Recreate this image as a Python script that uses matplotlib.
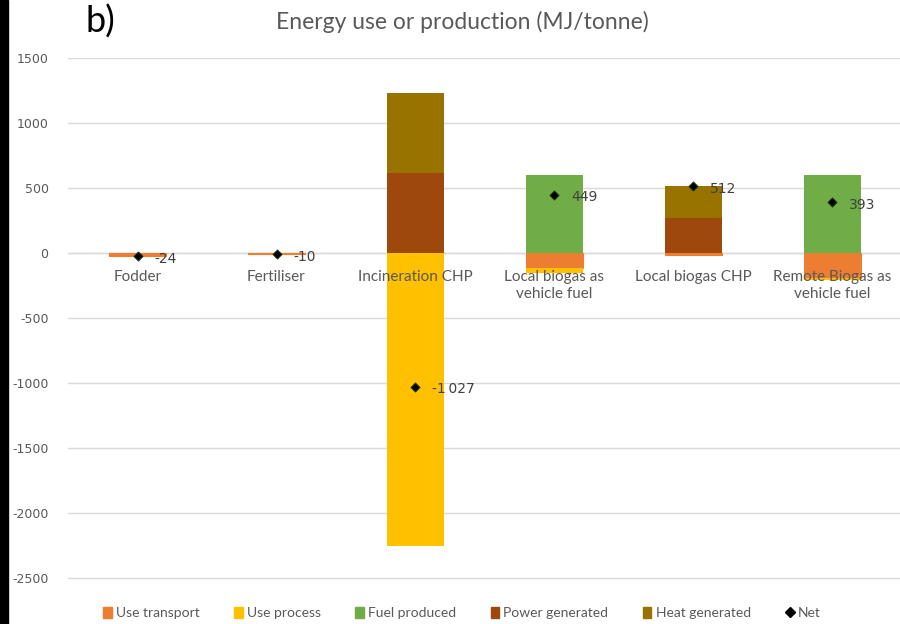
import numpy as np
import matplotlib.pyplot as plt
from matplotlib.patches import Rectangle
from matplotlib.lines import Line2D

plt.rcParams['font.family'] = ['Lato', 'DejaVu Sans']
plt.rcParams['axes.unicode_minus'] = False

categories = ['Fodder', 'Fertiliser', 'Incineration CHP', 'Local biogas as\nvehicle fuel',
              'Local biogas CHP', 'Remote Biogas as\nvehicle fuel']
use_transport = [-24, -10, 0, -115, -15, -190]
use_process = [0, 0, -2257, -36, -3, -17]
fuel_produced = [0, 0, 0, 600, 0, 600]
power_generated = [0, 0, 615, 0, 268, 0]
heat_generated = [0, 0, 615, 0, 250, 0]
net = [-24, -10, -1027, 449, 512, 393]
net_labels = ['-24', '-10', '-1\u2009027', '449', '512', '393']

c_transport = '#ED7D31'
c_process = '#FFC000'
c_fuel = '#70AD47'
c_power = '#9E480E'
c_heat = '#997300'

fig = plt.figure(figsize=(9, 6.24), dpi=100)
fig.patches.append(Rectangle((0, 0), 8 / 900, 1, transform=fig.transFigure, color='black', zorder=0))
ax = fig.add_axes([68 / 900, 20 / 624, 834 / 900, 546 / 624])

x = np.arange(len(categories))
w = 0.41
ax.bar(x, use_transport, w, color=c_transport, edgecolor=c_transport, linewidth=0.8, zorder=2)
ax.bar(x, use_process, w, bottom=use_transport, color=c_process, zorder=2)
ax.bar(x, fuel_produced, w, color=c_fuel, zorder=2)
ax.bar(x, power_generated, w, color=c_power, zorder=2)
ax.bar(x, heat_generated, w, bottom=power_generated, color=c_heat, zorder=2)
ax.scatter(x, net, marker='D', s=22, color='black', edgecolors='#1e3a10', linewidths=0.6, zorder=4)
for xi, yi, lab in zip(x, net, net_labels):
    ax.annotate(lab, (xi, yi), xytext=(12, -2), textcoords='offset points',
                fontsize=10, color='#404040', va='center', ha='left', zorder=5,
                family=['DejaVu Sans'])

ax.set_xlim(-0.5, len(categories) - 0.5)
ax.set_ylim(-2700, 1500)
ax.set_yticks(np.arange(-2500, 1501, 500))
ax.tick_params(axis='y', length=0, labelsize=9, labelcolor='#595959', pad=14)
ax.set_xticks([])
for t in ax.get_yticklabels():
    t.set_family(['DejaVu Sans'])
ax.yaxis.grid(True, color='#d9d9d9', linewidth=1, zorder=0)
ax.set_axisbelow(True)
for s in ax.spines.values():
    s.set_visible(False)
ax.axhline(0, color='#d9d9d9', linewidth=1, zorder=1)

for xi, lab in zip(x, categories):
    ax.annotate(lab, (xi, 0), xytext=(0, -12), textcoords='offset points',
                ha='center', va='top', fontsize=11, color='#595959', zorder=6, linespacing=1.3)

fig.text(462 / 900, 1 - 22 / 624, 'Energy use or production (MJ/tonne)', ha='center', va='center',
         fontsize=16.5, color='#595959')
fig.text(85 / 900, 1 - 22 / 624, 'b)', ha='left', va='center', fontsize=26, color='black')

handles = [Rectangle((0, 0), 1, 1, color=c) for c in [c_transport, c_process, c_fuel, c_power, c_heat]]
handles.append(Line2D([], [], marker='D', color='black', linestyle='none', markersize=5))
labels = ['Use transport', 'Use process', 'Fuel produced', 'Power generated', 'Heat generated', 'Net']
fig.legend(handles, labels, loc='center', bbox_to_anchor=(462 / 900, 1 - 613 / 624), ncol=6,
           frameon=False, fontsize=10, handlelength=0.6, handleheight=0.9, handletextpad=0.3,
           columnspacing=2.5, labelcolor='#595959')

fig.savefig('out.png', dpi=100)
